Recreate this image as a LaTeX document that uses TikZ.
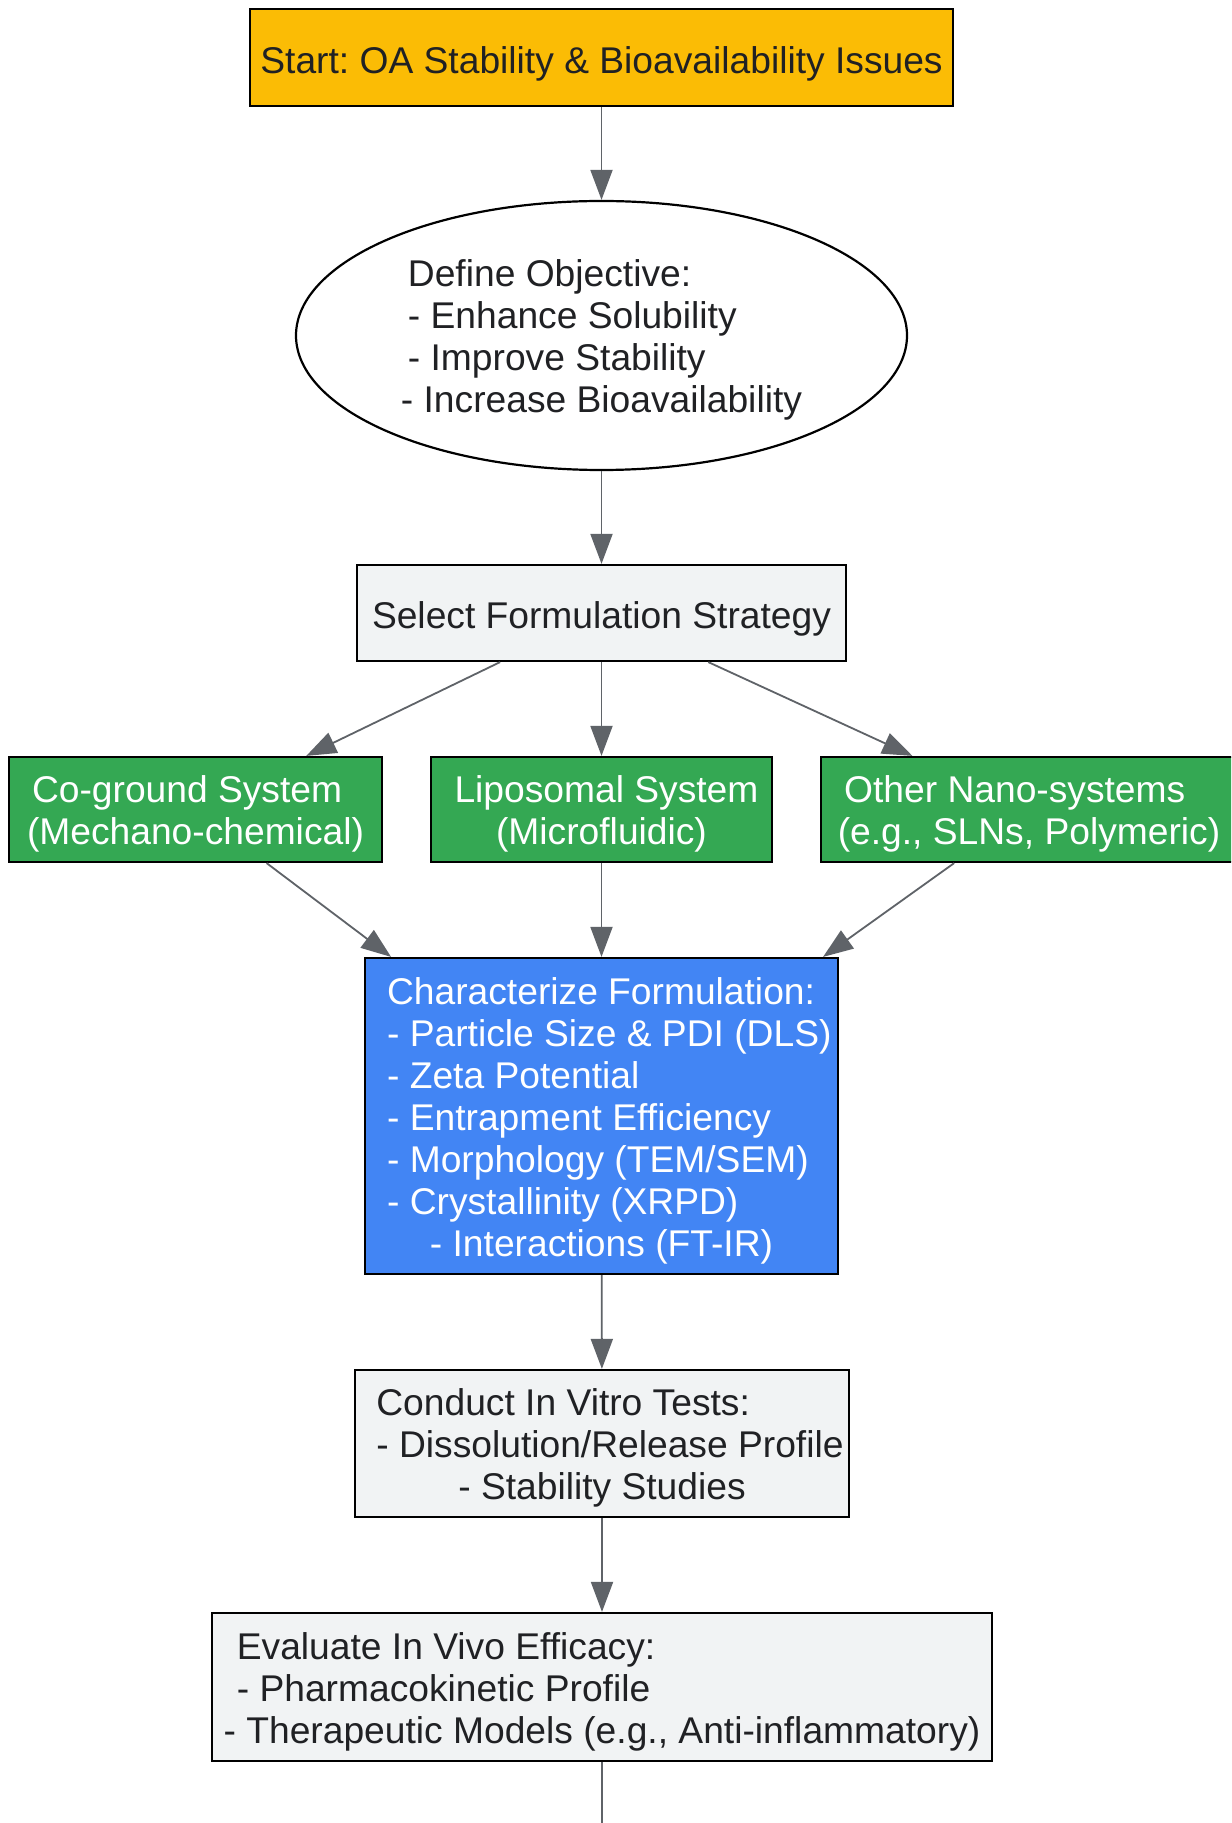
\documentclass[tikz,border=0pt]{standalone}
\usepackage{fontspec}
\setmainfont{Liberation Sans}
\usetikzlibrary{arrows.meta,shapes.geometric}
\frenchspacing

\definecolor{startyel}{HTML}{FBBC05}
\definecolor{stepgray}{HTML}{F1F3F4}
\definecolor{methgreen}{HTML}{34A853}
\definecolor{charblue}{HTML}{4285F4}
\definecolor{inkdark}{HTML}{202124}
\definecolor{edgegray}{HTML}{5F6368}

\newcommand{\boxtext}[1]{\raisebox{-3pt}[\height][\depth]{#1}}
% left lines, then a centred last line
\newcommand{\textlines}[3]{\boxtext{\begin{tabular}{@{\hspace{#1}}l@{}}#2\\ \multicolumn{1}{@{}c@{}}{#3}\end{tabular}}}

\tikzset{
  box/.style={draw=black, line width=1.1pt, rectangle, inner sep=4pt, text=inkdark,
    font=\fontsize{18.6}{21}\selectfont},
  graybox/.style={box, fill=stepgray},
  greenbox/.style={box, fill=methgreen, text=white},
  flow/.style={draw=edgegray, line width=0.9pt, -{Triangle[length=15pt,width=11pt]}}
}

\begin{document}
\begin{tikzpicture}[x=0.5pt, y=-0.5pt] % px of the reference
    \clip (0,0) rectangle (1231,1823);
    \fill[white] (0,0) rectangle (1231,1823);

    \node[box, fill=startyel, minimum width=351.5pt, minimum height=48.5pt] (start) at (601.5,57.5)
        {\boxtext{Start: OA Stability \& Bioavailability Issues}};
    \node[box, ellipse, fill=white, inner sep=0pt, minimum width=305.5pt, minimum height=134.5pt] (goal) at (601.5,335.5)
        {\textlines{3.5pt}{Define Objective:\\ - Enhance Solubility\\ - Improve Stability}{- Increase Bioavailability}};
    \node[graybox, minimum width=244.5pt, minimum height=48pt] (strat) at (601.5,613)
        {\boxtext{Select Formulation Strategy}};

    \node[greenbox, minimum width=186.5pt, minimum height=52.5pt] (cogr) at (195.5,809.5)
        {\textlines{2.5pt}{Co-ground System}{(Mechano-chemical)}};
    \node[greenbox, minimum width=170.5pt, minimum height=52.5pt] (lipo) at (601.5,809.5)
        {\textlines{5pt}{Liposomal System}{(Microfluidic)}};
    \node[greenbox, minimum width=208pt, minimum height=52.5pt] (nano) at (1029,809.5)
        {\textlines{3.2pt}{Other Nano-systems}{(e.g., SLNs, Polymeric)}};

    \node[box, fill=charblue, text=white, inner xsep=0pt, minimum width=236.5pt, minimum height=158pt] (charac) at (601.5,1116)
        {\textlines{7.8pt}{Characterize Formulation:\\ - Particle Size \& PDI (DLS)\\ - Zeta Potential\\
         - Entrapment Efficiency\\ - Morphology (TEM/SEM)\\ - Crystallinity (XRPD)}{- Interactions (FT-IR)}};
    \node[graybox, inner xsep=0pt, minimum width=247pt, minimum height=73.5pt] (vitro) at (602,1443.5)
        {\textlines{8pt}{Conduct In Vitro Tests:\\ - Dissolution/Release Profile}{- Stability Studies}};
    \node[graybox, minimum width=390pt, minimum height=74pt] (vivo) at (602,1687)
        {\textlines{6.6pt}{Evaluate In Vivo Efficacy:\\ - Pharmacokinetic Profile}{- Therapeutic Models (e.g., Anti-inflammatory)}};
    \coordinate (next) at (602,1840);

    \draw[flow] (start) -- (goal);
    \draw[flow] (goal) -- (strat);
    \draw[flow] (strat) -- (cogr);
    \draw[flow] (strat) -- (lipo);
    \draw[flow] (strat) -- (nano);
    \draw[flow] (cogr) -- (charac);
    \draw[flow] (lipo) -- (charac);
    \draw[flow] (nano) -- (charac);
    \draw[flow] (charac) -- (vitro);
    \draw[flow] (vitro) -- (vivo);
    \draw[draw=edgegray, line width=0.9pt] (vivo) -- (next);
\end{tikzpicture}
\end{document}
